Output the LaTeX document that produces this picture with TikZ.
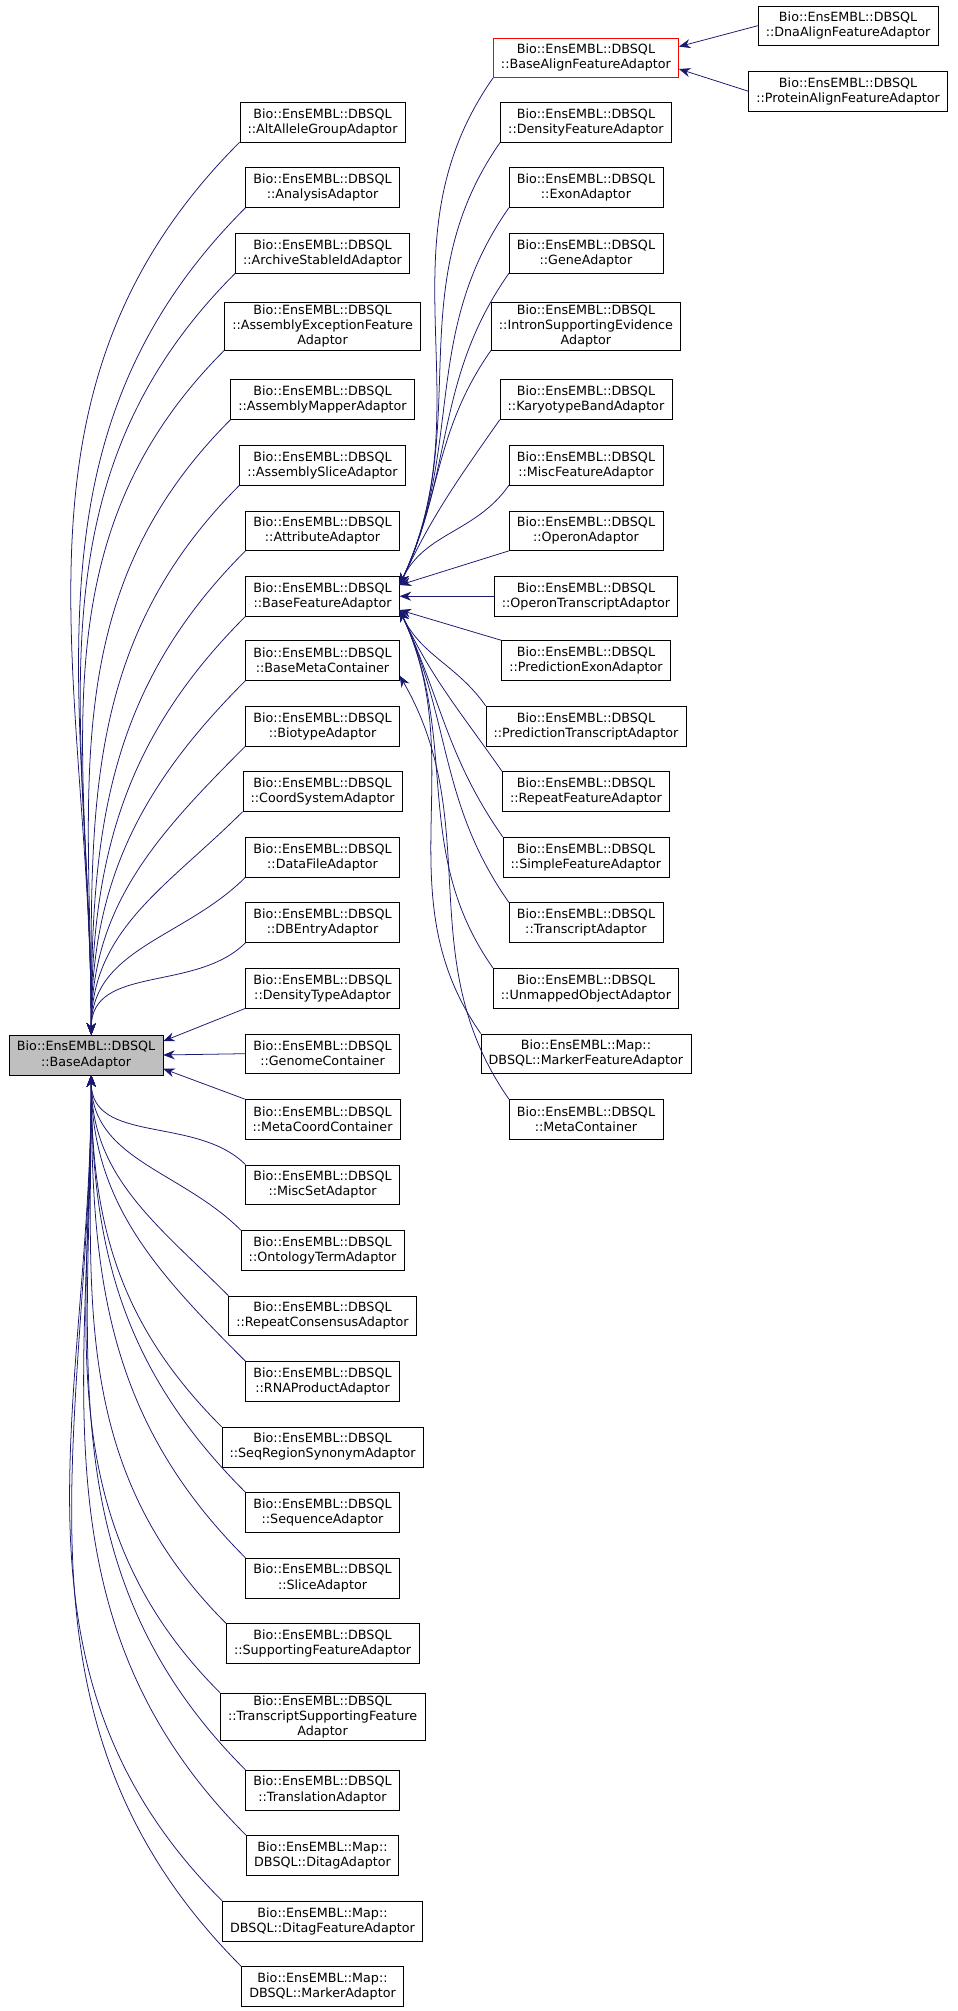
\documentclass[tikz,border=0pt]{standalone}
\usepackage{fontspec}
\setmainfont{DejaVu Sans}
\usetikzlibrary{arrows.meta}
\definecolor{edgec}{HTML}{191970}
\begin{document}
\begin{tikzpicture}[x=1pt,y=-1pt,
  box/.style={draw=black,fill=white,align=center,inner xsep=6pt,inner ysep=2pt,minimum height=31pt,font=\fontsize{9.9}{11.7}\selectfont},
  edge/.style={draw=edgec,line width=0.6pt,-{Stealth[length=9pt,width=7pt]}}]
\useasboundingbox (0,0) rectangle (745,1565);
\node[box,fill={rgb,255:red,191;green,191;blue,191}] (root) at (67,821) {Bio::EnsEMBL::DBSQL\\::BaseAdaptor};
% column 2
\node[box] (c1) at (251,95) {Bio::EnsEMBL::DBSQL\\::AltAlleleGroupAdaptor};
\node[box] (c2) at (251,146) {Bio::EnsEMBL::DBSQL\\::AnalysisAdaptor};
\node[box] (c3) at (251,197) {Bio::EnsEMBL::DBSQL\\::ArchiveStableIdAdaptor};
\node[box] (c4) at (251,254) {Bio::EnsEMBL::DBSQL\\::AssemblyExceptionFeature\\Adaptor};
\node[box] (c5) at (251,311) {Bio::EnsEMBL::DBSQL\\::AssemblyMapperAdaptor};
\node[box] (c6) at (251,362) {Bio::EnsEMBL::DBSQL\\::AssemblySliceAdaptor};
\node[box] (c7) at (251,413) {Bio::EnsEMBL::DBSQL\\::AttributeAdaptor};
\node[box] (bfa) at (251,464) {Bio::EnsEMBL::DBSQL\\::BaseFeatureAdaptor};
\node[box] (bmc) at (251,514) {Bio::EnsEMBL::DBSQL\\::BaseMetaContainer};
\node[box] (c10) at (251,565) {Bio::EnsEMBL::DBSQL\\::BiotypeAdaptor};
\node[box] (c11) at (251,616) {Bio::EnsEMBL::DBSQL\\::CoordSystemAdaptor};
\node[box] (c12) at (251,667) {Bio::EnsEMBL::DBSQL\\::DataFileAdaptor};
\node[box] (c13) at (251,718) {Bio::EnsEMBL::DBSQL\\::DBEntryAdaptor};
\node[box] (c14) at (251,769) {Bio::EnsEMBL::DBSQL\\::DensityTypeAdaptor};
\node[box] (c15) at (251,820) {Bio::EnsEMBL::DBSQL\\::GenomeContainer};
\node[box] (c16) at (251,871) {Bio::EnsEMBL::DBSQL\\::MetaCoordContainer};
\node[box] (c17) at (251,922) {Bio::EnsEMBL::DBSQL\\::MiscSetAdaptor};
\node[box] (c18) at (251,973) {Bio::EnsEMBL::DBSQL\\::OntologyTermAdaptor};
\node[box] (c19) at (251,1024) {Bio::EnsEMBL::DBSQL\\::RepeatConsensusAdaptor};
\node[box] (c20) at (251,1075) {Bio::EnsEMBL::DBSQL\\::RNAProductAdaptor};
\node[box] (c21) at (251,1126) {Bio::EnsEMBL::DBSQL\\::SeqRegionSynonymAdaptor};
\node[box] (c22) at (251,1177) {Bio::EnsEMBL::DBSQL\\::SequenceAdaptor};
\node[box] (c23) at (251,1228) {Bio::EnsEMBL::DBSQL\\::SliceAdaptor};
\node[box] (c24) at (251,1279) {Bio::EnsEMBL::DBSQL\\::SupportingFeatureAdaptor};
\node[box] (c25) at (251,1336) {Bio::EnsEMBL::DBSQL\\::TranscriptSupportingFeature\\Adaptor};
\node[box] (c26) at (251,1393) {Bio::EnsEMBL::DBSQL\\::TranslationAdaptor};
\node[box] (c27) at (251,1444) {Bio::EnsEMBL::Map::\\DBSQL::DitagAdaptor};
\node[box] (c28) at (251,1495) {Bio::EnsEMBL::Map::\\DBSQL::DitagFeatureAdaptor};
\node[box] (c29) at (251,1546) {Bio::EnsEMBL::Map::\\DBSQL::MarkerAdaptor};
% column 3
\node[box,draw=red] (bafa) at (456,45) {Bio::EnsEMBL::DBSQL\\::BaseAlignFeatureAdaptor};
\node[box] (d1) at (456,95) {Bio::EnsEMBL::DBSQL\\::DensityFeatureAdaptor};
\node[box] (d2) at (456,146) {Bio::EnsEMBL::DBSQL\\::ExonAdaptor};
\node[box] (d3) at (456,197) {Bio::EnsEMBL::DBSQL\\::GeneAdaptor};
\node[box] (d4) at (456,254) {Bio::EnsEMBL::DBSQL\\::IntronSupportingEvidence\\Adaptor};
\node[box] (d5) at (456,311) {Bio::EnsEMBL::DBSQL\\::KaryotypeBandAdaptor};
\node[box] (d6) at (456,362) {Bio::EnsEMBL::DBSQL\\::MiscFeatureAdaptor};
\node[box] (d7) at (456,413) {Bio::EnsEMBL::DBSQL\\::OperonAdaptor};
\node[box] (d8) at (456,464) {Bio::EnsEMBL::DBSQL\\::OperonTranscriptAdaptor};
\node[box] (d9) at (456,514) {Bio::EnsEMBL::DBSQL\\::PredictionExonAdaptor};
\node[box] (d10) at (456,565) {Bio::EnsEMBL::DBSQL\\::PredictionTranscriptAdaptor};
\node[box] (d11) at (456,616) {Bio::EnsEMBL::DBSQL\\::RepeatFeatureAdaptor};
\node[box] (d12) at (456,667) {Bio::EnsEMBL::DBSQL\\::SimpleFeatureAdaptor};
\node[box] (d13) at (456,718) {Bio::EnsEMBL::DBSQL\\::TranscriptAdaptor};
\node[box] (d14) at (456,769) {Bio::EnsEMBL::DBSQL\\::UnmappedObjectAdaptor};
\node[box] (d15) at (456,820) {Bio::EnsEMBL::Map::\\DBSQL::MarkerFeatureAdaptor};
\node[box] (d16) at (456,871) {Bio::EnsEMBL::DBSQL\\::MetaContainer};
% column 4
\node[box] (e1) at (660,20) {Bio::EnsEMBL::DBSQL\\::DnaAlignFeatureAdaptor};
\node[box] (e2) at (660,71) {Bio::EnsEMBL::DBSQL\\::ProteinAlignFeatureAdaptor};
% coordinates
\coordinate (rt) at ([xshift=4pt]root.north);
\coordinate (rb) at ([xshift=4pt]root.south);
\coordinate (bt) at ([yshift=-7pt]bfa.north east);
\coordinate (bb) at ([yshift=5pt]bfa.south east);
\coordinate (mb) at ([yshift=4pt]bmc.south east);
% edges to root
\foreach \n in {c1,c2,c3,c4,c5,c6,c7,bfa,bmc,c10,c11,c12,c13}
  \draw[edge] (\n.south west) to[out=225,in=90] (rt);
\draw[edge] (c14.south west) -- ([yshift=-5pt]root.north east);
\draw[edge] (c15.west) -- (root.east);
\draw[edge] (c16.north west) -- ([yshift=5pt]root.south east);
\foreach \n in {c17,c18,c19,c20,c21,c22,c23,c24,c25,c26,c27,c28,c29}
  \draw[edge] (\n.north west) to[out=135,in=-90] (rb);
% edges to BaseFeatureAdaptor
\foreach \n in {bafa,d1,d2,d3,d4,d5,d6}
  \draw[edge] (\n.south west) to[out=235,in=65] (bt);
\draw[edge] (d7.south west) -- (bt);
\draw[edge] (d8.west) -- (bfa.east);
\draw[edge] (d9.north west) -- (bb);
\foreach \n in {d10,d11,d12,d13,d14,d15}
  \draw[edge] (\n.north west) to[out=125,in=-65] (bb);
\draw[edge] (d16.north west) to[out=125,in=-60] (mb);
% edges to BaseAlignFeatureAdaptor
\draw[edge] (e1.west) -- ([yshift=-7pt]bafa.north east);
\draw[edge] (e2.west) -- ([yshift=7pt]bafa.south east);
\end{tikzpicture}
\end{document}
